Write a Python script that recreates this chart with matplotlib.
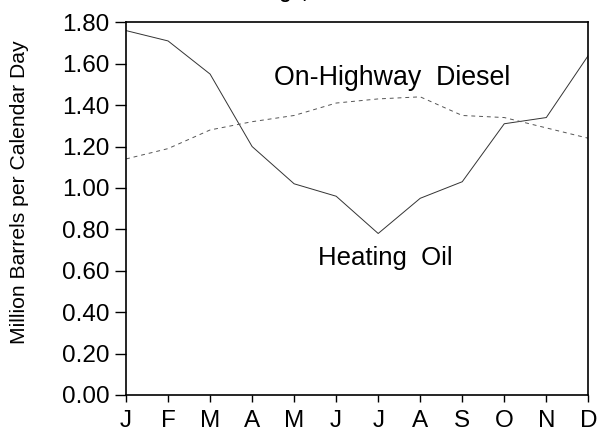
import matplotlib
matplotlib.use("Agg")
import matplotlib.pyplot as plt

# monthly values, million barrels per calendar day
months = ["J", "F", "M", "A", "M", "J", "J", "A", "S", "O", "N", "D"]
heating_oil = [1.76, 1.71, 1.55, 1.20, 1.02, 0.96, 0.78, 0.95, 1.03, 1.31, 1.34, 1.64]
highway_diesel = [1.14, 1.19, 1.28, 1.32, 1.35, 1.41, 1.43, 1.44, 1.35, 1.34, 1.29, 1.24]
y_ticks = [0.0, 0.2, 0.4, 0.6, 0.8, 1.0, 1.2, 1.4, 1.6, 1.8]

plt.rcParams["font.family"] = ["Liberation Sans", "DejaVu Sans"]

fig = plt.figure(figsize=(6.01, 4.34), dpi=100)
ax = fig.add_axes([0.2097, 0.0899, 0.7692, 0.8587])

x = list(range(len(months)))
ax.plot(x, heating_oil, color="#333333", linewidth=0.7)
ax.plot(x, highway_diesel, color="#555555", linewidth=0.7, dashes=(4, 4))

ax.set_xlim(0, 11)
ax.set_ylim(0, 1.8)
ax.set_xticks(x)
ax.set_xticklabels(months)
ax.set_yticks(y_ticks)
ax.set_yticklabels([f"{v:.2f}" for v in y_ticks])
ax.tick_params(axis="y", length=8, width=1.0, pad=4, labelsize=17.5, direction="out")
ax.tick_params(axis="x", length=5, width=1.0, pad=6, labelsize=17.5, direction="out")
for s in ax.spines.values():
    s.set_linewidth(1.2)

ax.set_ylabel("Million Barrels per Calendar Day", fontsize=15.2)
ax.yaxis.set_label_coords(-0.21, 0.543)

ax.text(6.34, 1.497, "On-Highway  Diesel", fontsize=19.3, ha="center", va="baseline")
ax.text(6.17, 0.628, "Heating  Oil", fontsize=18.5, ha="center", va="baseline")

# title sits above the visible area, only its descenders show
fig.text(0.525, 1.0 + 2.5 / 434, "Average, 1996-2000", fontsize=14, fontweight="bold",
         ha="center", va="baseline")

fig.savefig("out.png", dpi=100)
